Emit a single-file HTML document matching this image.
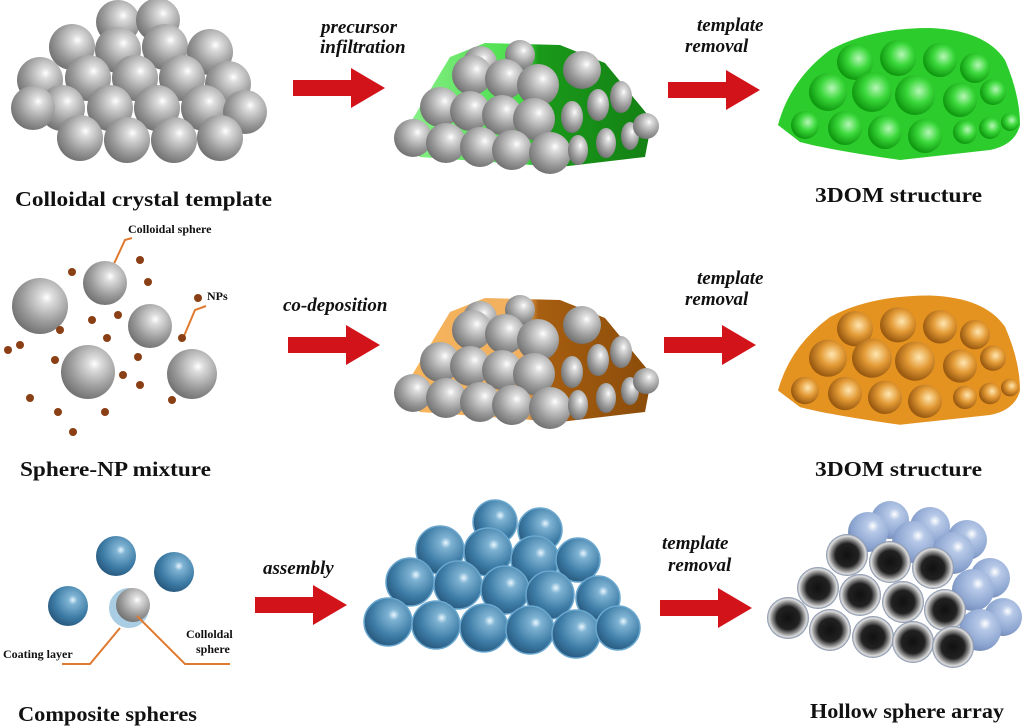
<!DOCTYPE html>
<html><head><meta charset="utf-8"><style>
body{margin:0;width:1024px;height:726px;background:#fff;overflow:hidden}
svg{display:block}
.lb{font-family:"Liberation Serif",serif;font-weight:bold;fill:#111}
.it{font-family:"Liberation Serif",serif;font-weight:bold;font-style:italic;fill:#111;font-size:19px}
</style></head><body>
<svg width="1024" height="726" viewBox="0 0 1024 726">
<defs>
<radialGradient id="g" cx="0.62" cy="0.35" r="0.75"><stop offset="0" stop-color="#fff"/><stop offset="0.15" stop-color="#ddd"/><stop offset="0.6" stop-color="#999"/><stop offset="1" stop-color="#666"/></radialGradient>
<radialGradient id="b" cx="0.62" cy="0.35" r="0.75"><stop offset="0" stop-color="#e8f6ff"/><stop offset="0.15" stop-color="#7fb3d3"/><stop offset="0.6" stop-color="#3d7ca6"/><stop offset="1" stop-color="#224f73"/></radialGradient>
<radialGradient id="lb" cx="0.62" cy="0.35" r="0.75"><stop offset="0" stop-color="#fff"/><stop offset="0.2" stop-color="#b7c9e8"/><stop offset="0.7" stop-color="#8aa3cf"/><stop offset="1" stop-color="#6b80aa"/></radialGradient>
<radialGradient id="h" cx="0.5" cy="0.5" r="0.5"><stop offset="0" stop-color="#111"/><stop offset="0.55" stop-color="#222"/><stop offset="0.78" stop-color="#999"/><stop offset="0.9" stop-color="#ddd"/><stop offset="1" stop-color="#7c8aa5"/></radialGradient>
<radialGradient id="gc" cx="0.6" cy="0.4" r="0.6"><stop offset="0" stop-color="#b5f7b5"/><stop offset="0.5" stop-color="#3ad83a"/><stop offset="1" stop-color="#109a10"/></radialGradient>
<radialGradient id="oc" cx="0.6" cy="0.4" r="0.6"><stop offset="0" stop-color="#ffe6b0"/><stop offset="0.5" stop-color="#e39a35"/><stop offset="1" stop-color="#9a5a10"/></radialGradient>
<linearGradient id="gf" x1="0" x2="1"><stop offset="0" stop-color="#8df08d"/><stop offset="0.5" stop-color="#44dd44"/><stop offset="0.55" stop-color="#1a9a1a"/><stop offset="1" stop-color="#138013"/></linearGradient>
<linearGradient id="of" x1="0" x2="1"><stop offset="0" stop-color="#f7b45a"/><stop offset="0.5" stop-color="#f0b060"/><stop offset="0.55" stop-color="#a75e10"/><stop offset="1" stop-color="#8a4c0a"/></linearGradient>
<g id="arrow"><polygon points="0,-8 58,-8 58,-20 92,0 58,20 58,8 0,8" fill="#d2141a"/></g>
<g id="pile">
<polygon points="400,395 450,312 485,298 560,300 605,318 652,375 645,412 560,422 420,412"/>
</g>
<g id="spheresP">
<circle cx="480" cy="318" r="17"/><circle cx="520" cy="310" r="15"/>
<circle cx="472" cy="330" r="20"/><circle cx="505" cy="334" r="20"/><circle cx="538" cy="340" r="21"/><circle cx="582" cy="325" r="19"/>
<circle cx="440" cy="362" r="20"/><circle cx="470" cy="366" r="20"/><circle cx="502" cy="370" r="20"/><circle cx="534" cy="374" r="21"/>
<circle cx="413" cy="393" r="19"/><circle cx="446" cy="398" r="20"/><circle cx="480" cy="402" r="20"/><circle cx="512" cy="405" r="20"/><circle cx="550" cy="408" r="21"/>
<ellipse cx="572" cy="372" rx="11" ry="16"/><ellipse cx="598" cy="360" rx="11" ry="16"/><ellipse cx="621" cy="352" rx="11" ry="16"/>
<ellipse cx="578" cy="405" rx="10" ry="15"/><ellipse cx="606" cy="398" rx="10" ry="15"/><ellipse cx="630" cy="391" rx="9" ry="14"/><circle cx="646" cy="381" r="13"/>
</g>
<g id="dome"><path d="M778,125 Q790,80 830,50 Q870,28 930,28 Q985,30 1005,60 Q1020,95 1020,125 Q1015,145 990,150 L900,160 Q830,150 800,142 Z"/></g>
<g id="cups">
<circle cx="855" cy="62" r="18"/><circle cx="898" cy="58" r="18"/><circle cx="940" cy="60" r="17"/><circle cx="975" cy="68" r="15"/>
<circle cx="828" cy="92" r="19"/><circle cx="872" cy="92" r="20"/><circle cx="915" cy="95" r="20"/><circle cx="960" cy="100" r="17"/><circle cx="993" cy="92" r="13"/>
<circle cx="805" cy="125" r="14"/><circle cx="845" cy="128" r="17"/><circle cx="885" cy="132" r="17"/><circle cx="925" cy="136" r="17"/><circle cx="965" cy="132" r="12"/><circle cx="990" cy="128" r="11"/><circle cx="1010" cy="122" r="9"/>
</g>
</defs>

<!-- Row1 pile -->
<g fill="url(#g)">
<circle cx="118" cy="22" r="22"/><circle cx="158" cy="20" r="22"/>
<circle cx="72" cy="47" r="23"/><circle cx="118" cy="50" r="23"/><circle cx="165" cy="47" r="23"/><circle cx="210" cy="52" r="23"/>
<circle cx="40" cy="80" r="23"/><circle cx="88" cy="78" r="23"/><circle cx="135" cy="78" r="23"/><circle cx="182" cy="78" r="23"/><circle cx="228" cy="84" r="23"/>
<circle cx="62" cy="108" r="23"/><circle cx="110" cy="108" r="23"/><circle cx="157" cy="108" r="23"/><circle cx="204" cy="108" r="23"/><circle cx="245" cy="112" r="22"/>
<circle cx="33" cy="108" r="22"/><circle cx="80" cy="138" r="23"/><circle cx="127" cy="140" r="23"/><circle cx="174" cy="140" r="23"/><circle cx="220" cy="138" r="23"/>
</g>
<text class="lb" x="15" y="206" font-size="21" textLength="257" lengthAdjust="spacingAndGlyphs">Colloidal crystal template</text>

<text class="it" x="321" y="33">precursor</text><text class="it" x="320" y="53">infiltration</text>
<use href="#arrow" x="293" y="88"/>
<g transform="translate(0,-255)"><use href="#pile" fill="url(#gf)"/><use href="#spheresP" fill="url(#g)"/></g>

<text class="it" x="697" y="31">template</text><text class="it" x="685" y="52">removal</text>
<use href="#arrow" x="668" y="90"/>
<use href="#dome" fill="#2ccc2c"/><use href="#cups" fill="url(#gc)"/>
<text class="lb" x="815" y="202" font-size="21" textLength="167" lengthAdjust="spacingAndGlyphs">3DOM structure</text>

<!-- Row2 -->
<text class="lb" x="128" y="233" font-size="12">Colloidal sphere</text>
<text class="lb" x="207" y="300" font-size="12">NPs</text>
<polyline points="112,268 125,240 132,238" fill="none" stroke="#e07a30" stroke-width="2"/>
<polyline points="184,336 195,310 206,306" fill="none" stroke="#e07a30" stroke-width="2"/>
<g fill="url(#g)"><circle cx="40" cy="306" r="28"/><circle cx="105" cy="283" r="22"/><circle cx="150" cy="326" r="22"/><circle cx="88" cy="372" r="27"/><circle cx="192" cy="374" r="25"/></g>
<g fill="#8a3f14">
<circle cx="72" cy="272" r="4"/><circle cx="148" cy="282" r="4"/><circle cx="20" cy="345" r="4"/><circle cx="60" cy="330" r="4"/><circle cx="92" cy="320" r="4"/><circle cx="118" cy="315" r="4"/><circle cx="107" cy="338" r="4"/><circle cx="138" cy="357" r="4"/><circle cx="55" cy="360" r="4"/><circle cx="182" cy="338" r="4"/><circle cx="8" cy="350" r="4"/><circle cx="123" cy="375" r="4"/><circle cx="140" cy="385" r="4"/><circle cx="30" cy="398" r="4"/><circle cx="58" cy="412" r="4"/><circle cx="105" cy="412" r="4"/><circle cx="73" cy="432" r="4"/><circle cx="172" cy="400" r="4"/><circle cx="198" cy="298" r="4"/><circle cx="140" cy="260" r="4"/>
</g>
<text class="lb" x="20" y="476" font-size="21" textLength="191" lengthAdjust="spacingAndGlyphs">Sphere-NP mixture</text>

<text class="it" x="283" y="311">co-deposition</text>
<use href="#arrow" x="288" y="345"/>
<use href="#pile" fill="url(#of)"/><use href="#spheresP" fill="url(#g)"/>

<text class="it" x="697" y="284">template</text><text class="it" x="685" y="305">removal</text>
<use href="#arrow" x="664" y="345"/>
<g transform="translate(0,268) scale(1,0.98)"><use href="#dome" fill="#e59320"/><use href="#cups" fill="url(#oc)"/></g>
<text class="lb" x="815" y="476" font-size="21" textLength="167" lengthAdjust="spacingAndGlyphs">3DOM structure</text>

<!-- Row3 -->
<g fill="url(#b)"><circle cx="116" cy="556" r="20"/><circle cx="174" cy="572" r="20"/><circle cx="68" cy="606" r="20"/></g>
<circle cx="129" cy="608" r="20" fill="#a9cde3"/><circle cx="133" cy="605" r="17" fill="url(#g)"/>
<polyline points="120,628 90,664 62,664" fill="none" stroke="#e07a30" stroke-width="2"/>
<polyline points="137,616 185,664 230,664" fill="none" stroke="#e07a30" stroke-width="2"/>
<text class="lb" x="3" y="658" font-size="12">Coating layer</text>
<text class="lb" x="186" y="638" font-size="12">Colloldal</text><text class="lb" x="196" y="653" font-size="12">sphere</text>
<text class="lb" x="18" y="721" font-size="21" textLength="179" lengthAdjust="spacingAndGlyphs">Composite spheres</text>

<text class="it" x="263" y="574">assembly</text>
<use href="#arrow" x="255" y="605"/>
<g fill="url(#b)" stroke="#6aa7cf" stroke-width="1.5">
<circle cx="495" cy="522" r="22"/><circle cx="540" cy="530" r="22"/>
<circle cx="440" cy="550" r="24"/><circle cx="488" cy="552" r="24"/><circle cx="535" cy="560" r="24"/><circle cx="578" cy="560" r="22"/>
<circle cx="410" cy="582" r="24"/><circle cx="458" cy="585" r="24"/><circle cx="505" cy="590" r="24"/><circle cx="550" cy="595" r="24"/><circle cx="598" cy="598" r="22"/>
<circle cx="388" cy="622" r="24"/><circle cx="436" cy="625" r="24"/><circle cx="484" cy="628" r="24"/><circle cx="530" cy="630" r="24"/><circle cx="576" cy="634" r="24"/><circle cx="618" cy="628" r="22"/>
</g>

<text class="it" x="662" y="549">template</text><text class="it" x="668" y="571">removal</text>
<use href="#arrow" x="660" y="608"/>
<g fill="url(#lb)">
<circle cx="890" cy="520" r="19"/><circle cx="868" cy="532" r="20"/><circle cx="930" cy="527" r="20"/><circle cx="913" cy="542" r="21"/><circle cx="967" cy="540" r="20"/><circle cx="953" cy="553" r="21"/><circle cx="990" cy="578" r="20"/><circle cx="973" cy="590" r="21"/><circle cx="1003" cy="617" r="19"/><circle cx="980" cy="630" r="21"/>
</g>
<g fill="url(#h)">
<circle cx="847" cy="555" r="21"/><circle cx="890" cy="562" r="21"/><circle cx="933" cy="568" r="21"/>
<circle cx="818" cy="588" r="21"/><circle cx="860" cy="595" r="21"/><circle cx="903" cy="602" r="21"/><circle cx="945" cy="610" r="21"/>
<circle cx="788" cy="618" r="21"/><circle cx="830" cy="630" r="21"/><circle cx="873" cy="637" r="21"/><circle cx="913" cy="642" r="21"/><circle cx="953" cy="647" r="21"/>
</g>
<text class="lb" x="810" y="718" font-size="21" textLength="194" lengthAdjust="spacingAndGlyphs">Hollow sphere array</text>
</svg>
</body></html>
